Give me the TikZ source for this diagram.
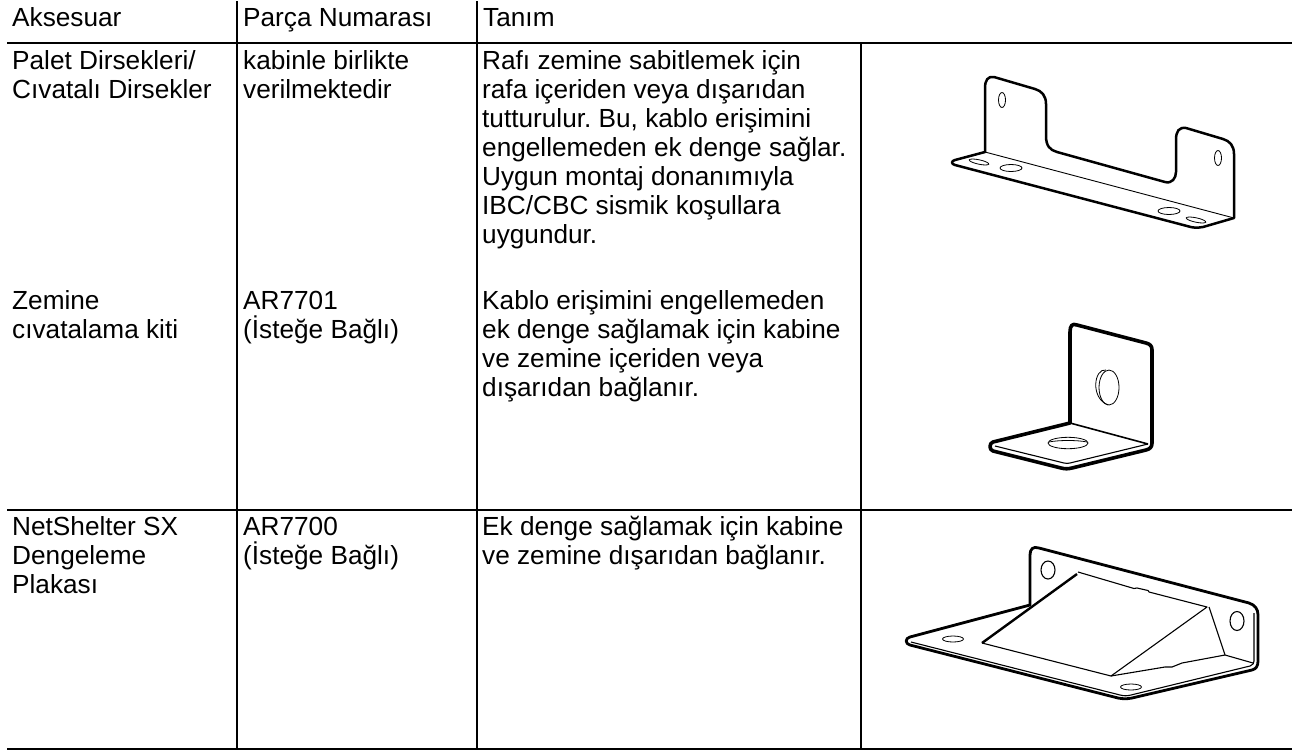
\documentclass[tikz,border=0pt]{standalone}
\usepackage{fontspec}
\setmainfont{Liberation Sans}
\frenchspacing
\newcommand\tl{\rule{0pt}{20pt}}
\tikzset{
  txt/.style={anchor=north west,inner sep=0pt,align=left,font=\fontsize{26.2}{29.1}\selectfont,text=black},
  rule/.style={line width=2pt,black},
  part/.style={line width=2.5pt,black,line join=round},
  heavy/.style={line width=3.6pt,black,line join=round},
  plate/.style={line width=2.8pt,black,line join=round},
  mid/.style={line width=1.6pt,black,line join=round},
  thin part/.style={line width=1.1pt,black,line join=round},
  hole/.style={line width=0.8pt,black}
}
\begin{document}
\begin{tikzpicture}[x=1pt,y=-1pt]
\useasboundingbox (0,0) rectangle (1292,750);
\fill[white] (0,0) rectangle (1292,750);
% rules
\draw[rule] (7,43)--(1292,43);
\draw[rule] (7,510)--(1292,510);
\draw[rule] (7,749)--(1292,749);
\draw[rule] (237,1)--(237,749);
\draw[rule] (477,1)--(477,749);
\draw[rule] (861,43)--(861,749);
% texts
\node[txt] (h1) at (12,6) {\tl Aksesuar};
\node[txt] (h2) at (243,6) {\tl Parça Numarası};
\node[txt] (h3) at (483,6) {\tl Tanım};
\node[txt] (a1) at (12,49) {\tl Palet Dirsekleri/\\Cıvatalı Dirsekler};
\node[txt] (b1) at (243,49) {\tl kabinle birlikte\\verilmektedir};
\node[txt] (c1) at (482,49) {\tl Rafı zemine sabitlemek için\\rafa içeriden veya dışarıdan\\tutturulur. Bu, kablo erişimini\\engellemeden ek denge sağlar.\\Uygun montaj donanımıyla\\IBC/CBC sismik koşullara\\uygundur.};
\node[txt] (a2) at (12,289) {\tl Zemine\\cıvatalama kiti};
\node[txt] (b2) at (243,289) {\tl AR7701\\(İsteğe Bağlı)};
\node[txt] (c2) at (482,289) {\tl Kablo erişimini engellemeden\\ek denge sağlamak için kabine\\ve zemine içeriden veya\\dışarıdan bağlanır.};
\node[txt] (a3) at (12,515.5) {\tl NetShelter SX\\Dengeleme\\Plakası};
\node[txt] (b3) at (243,515.5) {\tl AR7700\\(İsteğe Bağlı)};
\node[txt] (c3) at (482,515.5) {\tl Ek denge sağlamak için kabine\\ve zemine dışarıdan bağlanır.};
% bracket 1
\draw[part] (985,152)--(985,88) .. controls (985,80) and (988,76) .. (994,77)
 --(1035,89) .. controls (1042,91) and (1046,96) .. (1046,104)
 --(1046,136) .. controls (1046,146) and (1050,150) .. (1057,152)
 --(1165,182) .. controls (1172,184) and (1176,178) .. (1176,172)
 --(1176,140) .. controls (1176,131) and (1179,127) .. (1186,128)
 --(1223,139) .. controls (1230,141) and (1234,146) .. (1234,154)
 --(1234,218)--(1203,227) .. controls (1197,228) and (1193,228) .. (1187,226)
 --(955,165) .. controls (951,164) and (951,161) .. (955,160)--cycle;
\draw[thin part,line width=0.9pt] (985,152)--(1234,218);
\draw[hole] (1002,100) ellipse[x radius=3.5,y radius=7.5];
\draw[hole] (1218,158) ellipse[x radius=3.5,y radius=7.5];
\draw[hole,rotate around={-12:(979,162)}] (979,162) ellipse[x radius=10,y radius=2.2];
\draw[hole] (1011,168) ellipse[x radius=11,y radius=3.5];
\draw[hole] (1169,211) ellipse[x radius=11,y radius=3.5];
\draw[hole,rotate around={-12:(1196,220)}] (1196,220) ellipse[x radius=10,y radius=2.2];
% bracket 2
\draw[heavy] (1070,423)--(1070,332) .. controls (1070,326) and (1072,323) .. (1077,325)
 --(1146,343) .. controls (1150,344) and (1152,346) .. (1152,350)
 --(1152,443) .. controls (1152,447) and (1150,449) .. (1146,450)
 --(1072,468) .. controls (1068,469) and (1065,469) .. (1061,468)
 --(993,451) .. controls (989,450) and (989,443) .. (993,442)--cycle;
\draw[mid] (1070,423)--(1148,444);
\draw[thin part] (995,446)--(1064,463) .. controls (1066,463.5) and (1068,463.5) .. (1070,463)--(1148,444);
\draw[hole] (1109,387.5) ellipse[x radius=10,y radius=17.5];
\draw[hole] (1106,370) .. controls (1094,368) and (1090,398) .. (1108,405);
\draw[hole] (1068,443) ellipse[x radius=20,y radius=5.7];
\draw[hole] (1049,442) .. controls (1058,440) and (1078,440) .. (1087,442);
% bracket 3
\draw[plate] (1030,605)--(1030,555) .. controls (1030,549) and (1033,546) .. (1039,548)
 --(1249,603) .. controls (1255,605) and (1258,609) .. (1258,615)
 --(1258,661) .. controls (1258,666) and (1256,669) .. (1252,670)
 --(1132,698) .. controls (1127,699) and (1123,699) .. (1118,698)
 --(910,645) .. controls (905,644) and (905,638) .. (910,637)--cycle;
\draw[thin part] (911,642)--(1120,695) .. controls (1124,696) and (1127,696) .. (1131,695)--(1250,666) .. controls (1253,665) and (1254,663) .. (1254,661)--(1254,613);
\draw[plate,line width=2.4pt] (982,643)--(1077,574);
\draw[thin part] (982,643)--(1111,676)--(1207,607)--(1149,592)--(1148,590.5)--(1137,588)--(1134,588.5)--(1078,572);
\draw[thin part] (1209,607)--(1225,655)--(1253,663);
\draw[thin part] (1111,676)--(1165,667)--(1172,667)--(1182,663)--(1225,655);
\draw[hole,line width=1.1pt] (1048,570) ellipse[x radius=7,y radius=9];
\draw[hole,line width=1.1pt] (1237,621) ellipse[x radius=7,y radius=9.5];
\draw[hole] (953,639) ellipse[x radius=10.5,y radius=3];
\draw[hole] (1131,687) ellipse[x radius=10.5,y radius=3];
\end{tikzpicture}
\end{document}
